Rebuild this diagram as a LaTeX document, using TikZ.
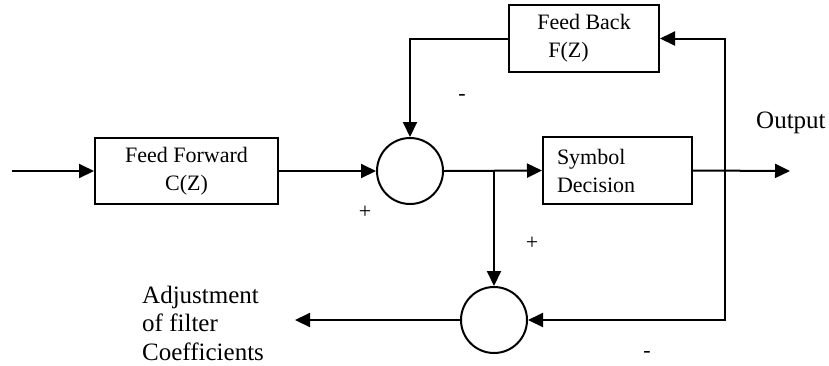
\documentclass[tikz,border=0pt]{standalone}
\usepackage{fontspec}
\setmainfont{Liberation Serif}
\usetikzlibrary{arrows.meta}
\begin{document}
\begin{tikzpicture}[x=1pt,y=-1pt,
  blk/.style={draw,line width=2pt,rectangle,inner sep=0pt,align=center,
    font=\fontsize{22}{28}\selectfont},
  sum/.style={draw,line width=2pt,circle,minimum size=66pt,inner sep=0pt},
  arr/.style={line width=2pt,-{Triangle[length=15pt,width=14pt]}},
  sgn/.style={font=\fontsize{22}{22}\selectfont,inner sep=0pt},
  lbl/.style={font=\fontsize{25}{28.5}\selectfont,inner sep=0pt,align=left}]
\useasboundingbox (0,0) rectangle (829,365);
\node[blk,minimum width=183pt,minimum height=66pt] (ff) at (186.5,171) {Feed Forward\\C(Z)};
\node[sum] (s1) at (410,171) {};
\node[blk,minimum width=150pt,minimum height=67pt,align=left] (fb) at (584,38.5) {Feed Back\\\hspace*{11pt}F(Z)};
\node[blk,text width=121pt,inner xsep=14pt,minimum height=67pt,align=left] (sd) at (617.5,170.5) {Symbol\\Decision};
\node[sum] (s2) at (494,320) {};
\coordinate (in) at (12,171);
\coordinate (br) at (494,171);
\coordinate (j1) at (725,171);
\coordinate (out) at (790,171);
\coordinate (adj) at (295,320);
\draw[arr] (in) -- (ff.west);
\draw[arr] (ff.east) -- (s1.west);
\draw[arr] (fb.west) -| (s1.north);
\draw[arr] (s1.east) -- (sd.west);
\draw[arr] (br) -- (s2.north);
\draw[arr] (sd.east) -- (out);
\draw[arr] (j1) |- (fb.east);
\draw[arr] (j1) |- (s2.east);
\draw[arr] (s2.west) -- (adj);
\node[sgn] (p1) at (365,212) {+};
\node[sgn] (m1) at (462,97) {-};
\node[sgn] (p2) at (532,243) {+};
\node[sgn] (m2) at (647,354) {-};
\node[lbl,anchor=west] (outl) at (756,123) {Output};
\node[lbl,anchor=west] (adjl) at (142,323) {Adjustment\\of filter\\Coefficients};
\end{tikzpicture}
\end{document}
